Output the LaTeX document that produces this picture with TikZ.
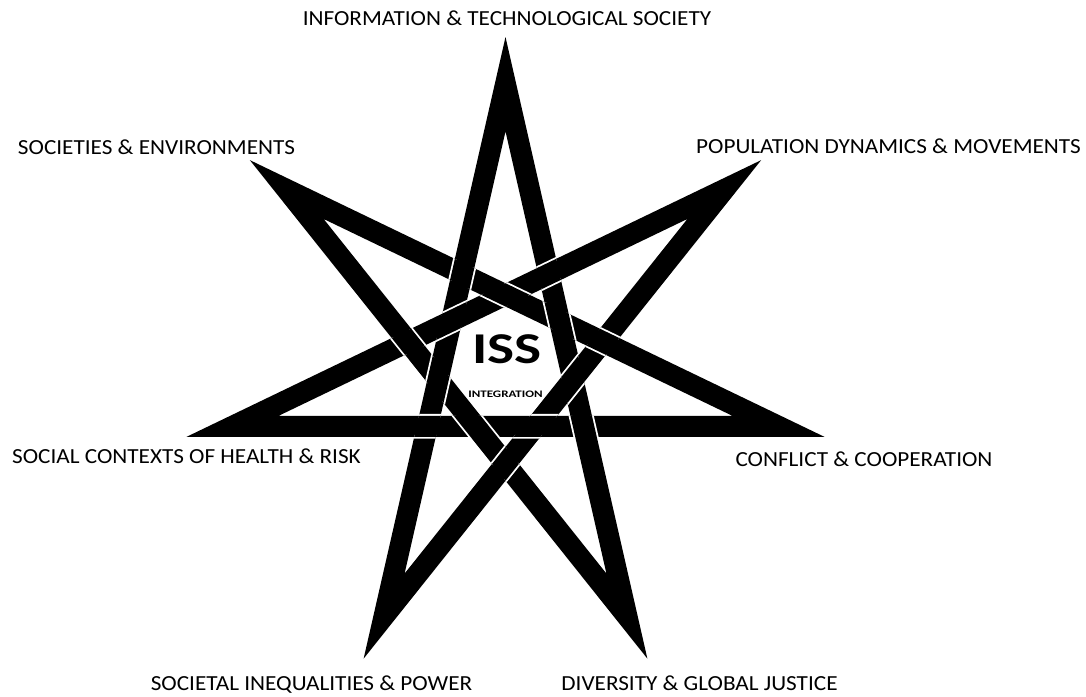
\documentclass[tikz,border=0pt]{standalone}
\usepackage{fontspec}
\setmainfont{Carlito}
\newfontfamily\lblfont[FakeStretch=1.08]{Carlito}
\newfontfamily\issfont[FakeStretch=1.3]{Carlito}
\newfontfamily\intfont[FakeStretch=1.3]{Carlito}
\usetikzlibrary{calc}
\tikzset{
  lbl/.style={anchor=base, inner sep=0pt, font=\lblfont\fontsize{21.5}{26}\selectfont},
}
\begin{document}
\begin{tikzpicture}[x=1pt,y=-1pt]
\useasboundingbox (0,0) rectangle (1086,696);
\def\cx{505.5}\def\cy{364}\def\R{327}\def\Rn{232.6}
\foreach \k in {0,...,6}{
  \coordinate (V\k) at ({\cx+\R*sin(\k*360/7)},{\cy-\R*cos(\k*360/7)});
  \coordinate (N\k) at ({\cx+\Rn*sin(\k*360/7)},{\cy-\Rn*cos(\k*360/7)});
}
% bands
\fill[black] (V0)--(V3)--(N3)--(N0)--cycle
  (V1)--(V4)--(N4)--(N1)--cycle
  (V2)--(V5)--(N5)--(N2)--cycle
  (V3)--(V6)--(N6)--(N3)--cycle
  (V4)--(V0)--(N0)--(N4)--cycle
  (V5)--(V1)--(N1)--(N5)--cycle
  (V6)--(V2)--(N2)--(N6)--cycle;
% interlacing
\foreach \o in {0,...,6}{
  \pgfmathtruncatemacro\oo{mod(\o+3,7)}
  \foreach \d in {6,2}{
    \pgfmathtruncatemacro\u{mod(\o+\d,7)}
    \pgfmathtruncatemacro\uu{mod(\u+3,7)}
    \begin{scope}
      \clip (V\u)--(V\uu)--(N\uu)--(N\u)--cycle;
      \draw[white, line width=3.6pt] (V\o)--(V\oo)--(N\oo)--(N\o)--cycle;
      \fill[black] (V\o)--(V\oo)--(N\oo)--(N\o)--cycle;
    \end{scope}
  }
}
\node[anchor=base, inner sep=0pt, font=\issfont\bfseries\fontsize{44}{50}\selectfont] (iss) at (507,363) {ISS};
\node[anchor=base, inner sep=0pt, font=\intfont\bfseries\fontsize{10}{11}\selectfont] (integ) at (505.5,397) {INTEGRATION};
\node[lbl] (l0) at (507,25) {INFORMATION \& TECHNOLOGICAL SOCIETY};
\node[lbl] (l1) at (888.5,153) {POPULATION DYNAMICS \& MOVEMENTS};
\node[lbl] (l2) at (864,466) {CONFLICT \& COOPERATION};
\node[lbl] (l3) at (699.5,690) {DIVERSITY \& GLOBAL JUSTICE};
\node[lbl] (l4) at (311.5,690) {SOCIETAL INEQUALITIES \& POWER};
\node[lbl] (l5) at (186.5,463) {SOCIAL CONTEXTS OF HEALTH \& RISK};
\node[lbl] (l6) at (156.5,154) {SOCIETIES \& ENVIRONMENTS};
\end{tikzpicture}
\end{document}
